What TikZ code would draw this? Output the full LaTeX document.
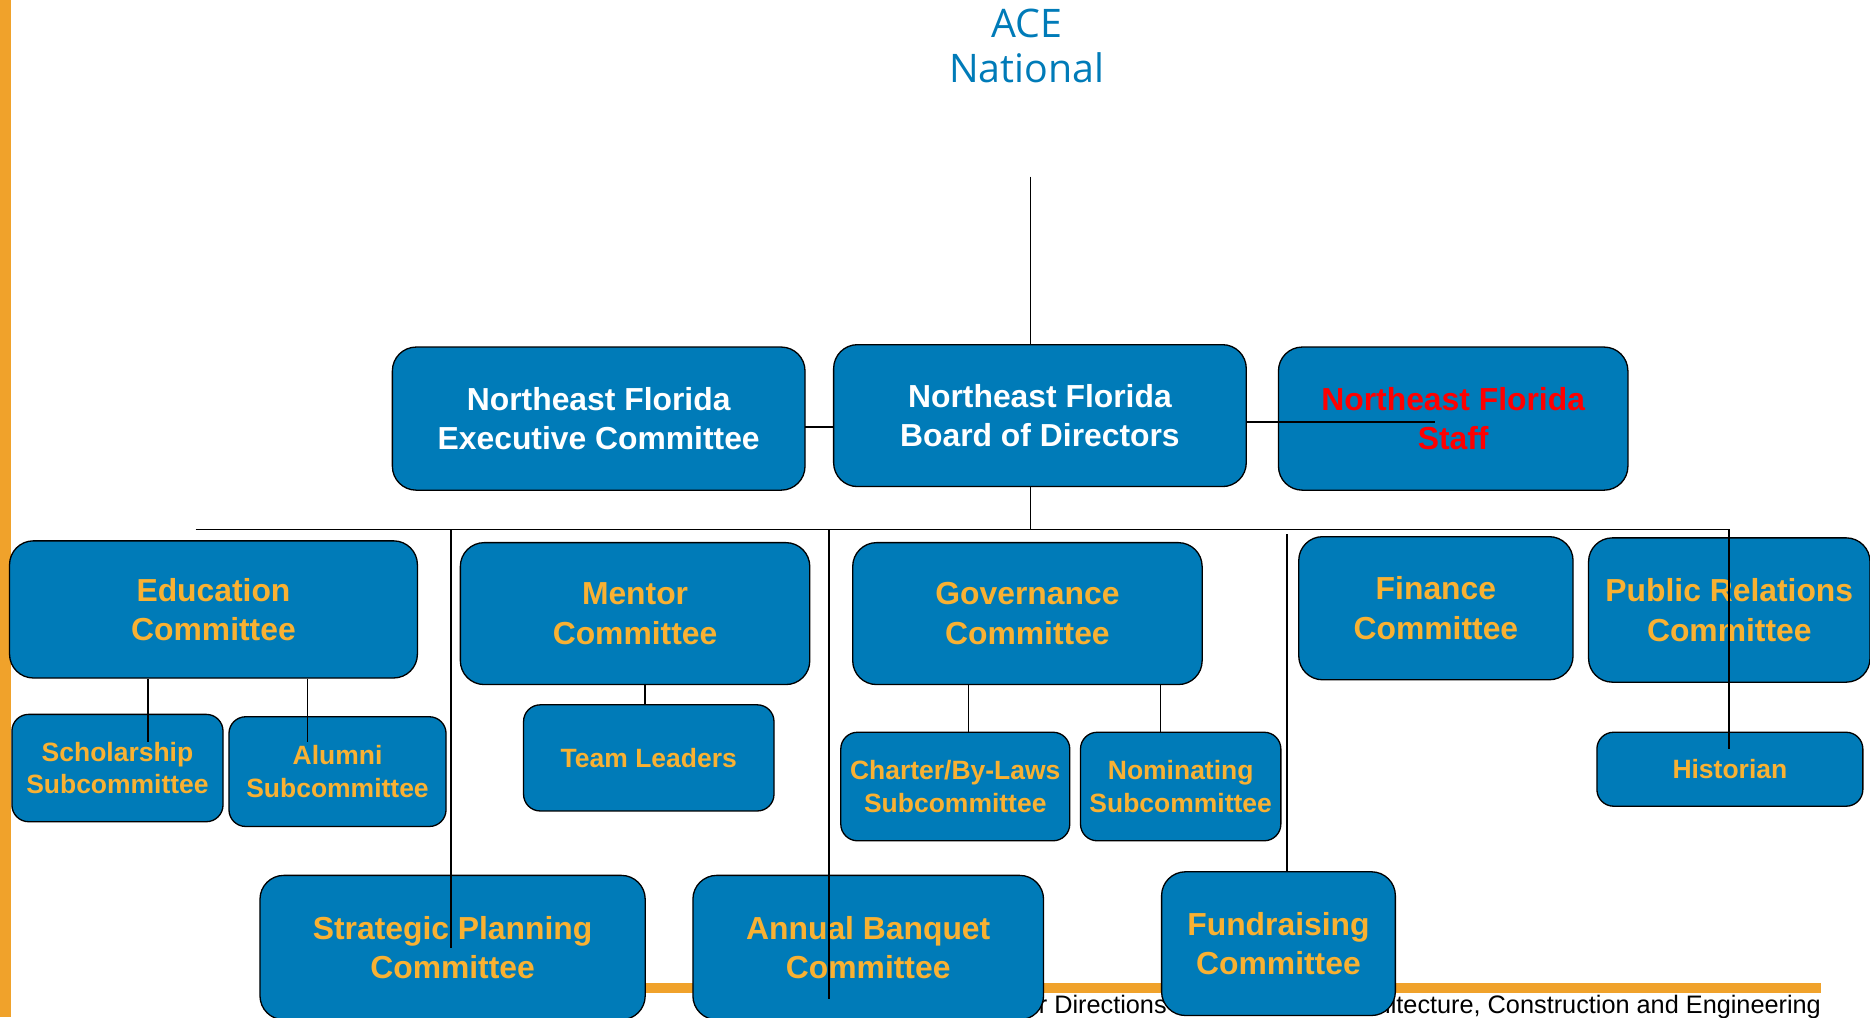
\documentclass[tikz,border=0pt]{standalone}
\usepackage{fontspec}
\setmainfont{Liberation Sans}
\newfontfamily\acefont{Open Sans}
\usepackage{tikz}
\usetikzlibrary{positioning}
\definecolor{aceblue}{RGB}{0,123,184}
\definecolor{aceorange}{RGB}{249,177,50}
\definecolor{barorange}{RGB}{240,162,43}
\tikzset{
    %Define style for boxes
    board/.style={
           rectangle,
           rounded corners=20pt,
           draw=black, line width=1.1pt,
           fill=aceblue,
           inner sep=0pt,
           align=center,
           text=white,
           font=\bfseries\fontsize{26.7}{33}\selectfont},
    committee/.style={
           board,
           text=aceorange},
    subcommittee/.style={
           board,
           rounded corners=14pt,
           text=aceorange,
           font=\bfseries\fontsize{22.2}{27}\selectfont},
    % Define line style
    link/.style={
           draw=black,
           line width=1.2pt},
    footer/.style={
           anchor=base east,
           inner sep=0pt,
           font=\fontsize{21.2}{25}\selectfont}
}
\begin{document}
\begin{tikzpicture}[x=1pt,y=-1pt]
\useasboundingbox (0,0) rectangle (1568,853);
% bars and footer
\fill[barorange] (0,0) rectangle (9.5,853);
\fill[barorange] (400,824) rectangle (1527,832.5);
\node[footer] (dir) at (978.5,850) {er Directions};
\node[footer] (eng) at (1527,850) {hitecture, Construction and Engineering};
\node[text=aceblue, align=center, font=\acefont\fontsize{33}{37}\selectfont] (ace) at (861,38.5) {ACE\\National};
% top row
\node[board, minimum width=346, minimum height=120] (exec) at (502,351) {Northeast Florida\\Executive Committee};
\node[board, minimum width=346, minimum height=119] (bod) at (872,348.5) {Northeast Florida\\Board of Directors};
\node[board, text=red, minimum width=293, minimum height=120] (staff) at (1218.5,351) {Northeast Florida\\Staff};
% committees
\node[committee, minimum width=342, minimum height=115] (edu) at (179,511) {Education\\Committee};
\node[committee, minimum width=293, minimum height=119] (mentor) at (532.5,514.5) {Mentor\\Committee};
\node[committee, minimum width=293, minimum height=119] (gov) at (861.5,514.5) {Governance\\Committee};
\node[committee, minimum width=230, minimum height=120] (fin) at (1204,510) {Finance\\Committee};
\node[committee, minimum width=236, minimum height=121] (pr) at (1450,511.5) {Public Relations\\Committee};
\node[committee, minimum width=323, minimum height=121] (strat) at (379.5,794.5) {Strategic Planning\\Committee};
\node[committee, minimum width=294, minimum height=121] (banq) at (728,794.5) {Annual Banquet\\Committee};
\node[committee, minimum width=196, minimum height=120.5] (fund) at (1072,791.25) {Fundraising\\Committee};
% subcommittees
\node[subcommittee, minimum width=177, minimum height=90] (schol) at (98.5,644) {Scholarship\\Subcommittee};
\node[subcommittee, minimum width=182, minimum height=92] (alum) at (283,647) {Alumni\\Subcommittee};
\node[subcommittee, minimum width=210, minimum height=89] (team) at (544,635.5) {Team Leaders};
\node[subcommittee, minimum width=192, minimum height=91] (chart) at (801,659.5) {Charter/By-Laws\\Subcommittee};
\node[subcommittee, minimum width=168, minimum height=91] (nom) at (990,659.5) {Nominating\\Subcommittee};
\node[subcommittee, minimum width=223, minimum height=62] (hist) at (1450.5,645) {Historian};
% line ends
\coordinate (natbot) at (864,148);
\coordinate (busL) at (164,444);
\coordinate (busR) at (1450,444);
\coordinate (histend) at (1450,628);
\coordinate (execlink) at (675,358);
\coordinate (staffend) at (1203,354);
\coordinate (stratend) at (378,795);
\coordinate (banqend) at (695,838);
\coordinate (fundtop) at (1079,448);
\coordinate (scholend) at (124,622);
\coordinate (alumend) at (258,622);
\coordinate (teamtop) at (541,591);
\coordinate (charttop) at (812,614);
\coordinate (nomtop) at (973,614);
\path[link]
    (natbot) edge (natbot |- bod.north)
    (natbot |- bod.south) edge (natbot |- busL)
    (execlink) edge[line width=1.8pt] (execlink -| bod.west)
    (staffend -| bod.east) edge[line width=1.8pt] (staffend)
    (stratend |- busL) edge (stratend)
    (banqend |- busL) edge (banqend)
    (fundtop) edge (fundtop |- fund.north)
    (scholend |- edu.south) edge (scholend)
    (alumend |- edu.south) edge (alumend)
    (teamtop |- mentor.south) edge (teamtop)
    (charttop |- gov.south) edge (charttop)
    (nomtop |- gov.south) edge (nomtop);
\draw[link, line width=1.5pt] (busL) -- (busR) -- (histend);
\end{tikzpicture}
\end{document}
